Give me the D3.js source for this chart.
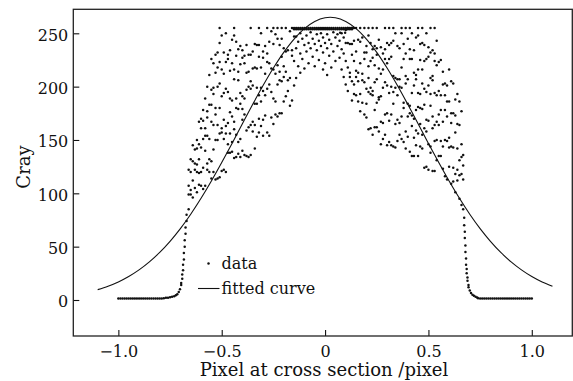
<!DOCTYPE html>
<html>
<head>
<meta charset="utf-8">
<script src="https://cdn.jsdelivr.net/npm/d3@7"></script>
<style>
  body { margin: 0; background: #fff; }
  svg { display: block; font-family: "DejaVu Serif", serif; }
</style>
</head>
<body>
<div id="CHART"></div>
<script>
var WIDTH = 573, HEIGHT = 381;
var MARGIN = {LEFT: 73.3, RIGHT: 0.7, TOP: 9.3, BOTTOM: 45};

var xTicks = [-1.0, -0.5, 0, 0.5, 1.0];
var yTicks = [0, 50, 100, 150, 200, 250];
var legendLabels = ["data", "fitted curve"];
var xTitle = "Pixel at cross section /pixel";
var yTitle = "Cray";

// fitted curve, every 0.05
var fitX = [-1.1, -1.05, -1.0, -0.95, -0.9, -0.85, -0.8, -0.75, -0.7, -0.65, -0.6, -0.55, -0.5, -0.45, -0.4, -0.35, -0.3, -0.25, -0.2, -0.15, -0.1, -0.05, 0,
            0.05, 0.1, 0.15, 0.2, 0.25, 0.3, 0.35, 0.4, 0.45, 0.5, 0.55, 0.6, 0.65, 0.7, 0.75, 0.8, 0.85, 0.9, 0.95, 1.0, 1.05, 1.1];
var fitY = [9.7, 12.9, 16.9, 22.0, 28.2, 35.7, 44.6, 55.0, 66.9, 80.4, 95.3, 111.5, 128.8, 146.8, 165.2, 183.4, 201.0, 217.4, 232.1, 244.6, 254.4, 261.1, 264.6,
            264.6, 261.1, 254.4, 244.6, 232.1, 217.4, 201.0, 183.4, 165.2, 146.8, 128.8, 111.5, 95.3, 80.4, 66.9, 55.0, 44.6, 35.7, 28.2, 22.0, 16.9, 12.9];

// measured points, each entry is [x, gray, gray, ...]
var tailLeft = [
  [-1.00, 1.5], [-0.99, 1.5], [-0.98, 1.5], [-0.97, 1.5], [-0.96, 1.5], [-0.95, 1.5], [-0.94, 1.5], [-0.93, 1.5], [-0.92, 1.5], [-0.91, 1.5], [-0.90, 1.5],
  [-0.89, 1.5], [-0.88, 1.5], [-0.87, 1.5], [-0.86, 1.5], [-0.85, 1.5], [-0.84, 1.5], [-0.83, 1.5], [-0.82, 1.5], [-0.81, 1.5], [-0.80, 1.5], [-0.79, 1.5], [-0.78, 1.6],
  [-0.770, 2], [-0.760, 2.2], [-0.750, 2.5], [-0.740, 3], [-0.730, 3.5], [-0.722, 4.5], [-0.715, 5.5], [-0.708, 7.5], [-0.702, 10], [-0.696, 14, 16],
  [-0.691, 20, 24], [-0.687, 28, 33], [-0.683, 38, 44], [-0.679, 50, 56], [-0.675, 62, 68], [-0.670, 74, 80]
];

var clusterLeft = [
  [-0.660, 85, 99, 107, 122], [-0.650, 99, 103, 120, 132], [-0.640, 96, 112, 130, 145], [-0.630, 105, 122, 128, 141],
  [-0.620, 101, 120, 127, 142, 150], [-0.610, 108, 119, 132, 146, 167], [-0.600, 107, 120, 143, 161, 170], [-0.590, 104, 124, 151, 168, 178],
  [-0.580, 107, 140, 154, 161, 189], [-0.570, 122, 128, 154, 171, 177, 200], [-0.560, 120, 132, 151, 183, 211], [-0.550, 114, 130, 167, 183, 197, 226],
  [-0.540, 120, 141, 164, 193, 199, 222], [-0.530, 113, 150, 174, 180, 213, 230], [-0.520, 114, 150, 164, 200, 218, 232], [-0.510, 115, 156, 180, 203, 223, 241, 255],
  [-0.500, 121, 157, 161, 191, 216, 248], [-0.490, 122, 151, 169, 194, 212, 232], [-0.480, 120, 156, 163, 198, 223, 250], [-0.470, 138, 146, 166, 195, 226, 230],
  [-0.460, 138, 156, 176, 189, 215, 234], [-0.450, 139, 148, 172, 187, 222, 244], [-0.440, 133, 160, 167, 207, 216, 248, 255], [-0.430, 134, 155, 180, 189, 229, 242],
  [-0.420, 137, 148, 179, 206, 214, 235], [-0.410, 134, 151, 184, 194, 221, 238], [-0.400, 140, 169, 179, 191, 227, 234], [-0.390, 136, 174, 189, 222, 229],
  [-0.380, 135, 159, 197, 213, 239], [-0.370, 134, 162, 200, 214, 230], [-0.360, 136, 164, 198, 205, 230, 255], [-0.350, 158, 167, 201, 217, 233],
  [-0.340, 142, 164, 184, 218, 240], [-0.330, 153, 184, 199, 217, 239], [-0.320, 157, 170, 192, 228, 239, 255], [-0.310, 163, 186, 199, 218, 250],
  [-0.300, 154, 169, 196, 227, 233], [-0.290, 173, 192, 212, 238], [-0.280, 157, 198, 223, 231, 255], [-0.270, 154, 202, 222, 242],
  [-0.260, 171, 195, 217, 252], [-0.250, 165, 189, 216, 240, 255], [-0.240, 174, 186, 212, 249], [-0.230, 172, 202, 220, 245, 255],
  [-0.220, 175, 206, 214, 239], [-0.210, 175, 205, 228, 245, 255], [-0.200, 186, 209, 219, 236], [-0.190, 191, 214, 233, 255],
  [-0.180, 196, 206, 234], [-0.170, 182, 208, 252], [-0.160, 187, 229, 234, 255], [-0.150, 201, 224, 247]
];

var clusterMiddle = [
  [-0.140, 208, 236, 247], [-0.130, 219, 242], [-0.120, 213, 231, 250], [-0.110, 226, 245], [-0.100, 217, 239], [-0.090, 233, 248],
  [-0.080, 222, 241], [-0.070, 236, 251], [-0.060, 228, 245], [-0.050, 219, 240], [-0.040, 234, 249], [-0.030, 225, 243],
  [-0.020, 238, 250], [-0.010, 216, 232, 246], [0.000, 222, 241], [0.010, 211, 236, 249], [0.020, 229, 244], [0.030, 218, 240],
  [0.040, 233, 251], [0.050, 224, 246], [0.060, 238, 249], [0.070, 227, 243], [0.080, 216, 235, 250], [0.090, 209, 231, 246],
  [0.100, 202, 224, 241, 253], [0.073, 250.5], [0.097, 250.5]
];

// saturated plateau at the top
var plateau = [
  [-0.15, 255, 253.8], [-0.14, 255, 253.8], [-0.13, 255, 253.8], [-0.12, 255, 253.8], [-0.11, 255, 253.8], [-0.10, 255, 253.8],
  [-0.09, 255, 253.8], [-0.08, 255, 253.8], [-0.07, 255, 253.8], [-0.06, 255, 253.8], [-0.05, 255, 253.8], [-0.04, 255, 253.8],
  [-0.03, 255, 253.8], [-0.02, 255, 253.8], [-0.01, 255, 253.8], [0.00, 255, 253.8], [0.01, 255, 253.8], [0.02, 255, 253.8],
  [0.03, 255, 253.8], [0.04, 255, 253.8], [0.05, 255, 253.8], [0.06, 255, 253.8], [0.07, 255, 253.8], [0.08, 255, 253.8],
  [0.09, 255, 253.8], [0.10, 255, 253.8], [0.11, 255, 253.8], [0.12, 255, 253.8], [0.13, 255, 253.8], [0.14, 255]
];

var clusterRight = [
  [0.110, 196, 218, 241, 255], [0.120, 209, 213, 240], [0.130, 187, 205, 230, 240, 255], [0.140, 193, 202, 224, 243], [0.150, 192, 209, 215, 233, 255],
  [0.160, 186, 205, 213, 244], [0.170, 177, 193, 222, 242, 255], [0.180, 185, 206, 212, 246], [0.190, 174, 204, 226, 232, 255], [0.200, 171, 184, 198, 232, 238],
  [0.210, 160, 195, 208, 219, 248, 255], [0.220, 161, 193, 199, 224, 241], [0.230, 155, 192, 196, 227, 235, 255], [0.240, 162, 178, 204, 220, 238], [0.250, 162, 185, 207, 230, 236, 255],
  [0.260, 158, 188, 190, 217, 244], [0.270, 146, 167, 191, 212, 237], [0.280, 151, 166, 199, 216, 231], [0.290, 155, 174, 204, 226, 235, 255], [0.300, 145, 175, 201, 222, 241],
  [0.310, 148, 168, 194, 226, 239, 255], [0.320, 145, 174, 200, 228, 241], [0.330, 144, 184, 195, 210, 243, 255], [0.340, 143, 165, 199, 208, 250], [0.350, 149, 169, 192, 207, 238],
  [0.360, 155, 166, 200, 207, 236], [0.370, 151, 172, 199, 218, 250, 255], [0.380, 148, 180, 185, 226, 240], [0.390, 142, 158, 203, 210, 231, 255], [0.400, 153, 172, 184, 207, 245],
  [0.410, 139, 175, 182, 226, 235, 255], [0.420, 135, 163, 173, 194, 226, 250], [0.430, 135, 152, 170, 201, 213, 234], [0.440, 145, 159, 178, 207, 211, 246], [0.450, 135, 156, 181, 194, 216, 248, 255],
  [0.460, 144, 165, 180, 193, 225, 240], [0.470, 142, 155, 179, 203, 216, 241, 255], [0.480, 124, 161, 183, 198, 224, 239], [0.490, 125, 158, 169, 195, 226, 250], [0.500, 122, 146, 168, 201, 228, 237],
  [0.510, 138, 144, 182, 193, 208, 232, 255], [0.520, 121, 161, 172, 206, 210, 234], [0.530, 121, 149, 164, 194, 224, 231, 255], [0.540, 131, 150, 167, 192, 220, 243], [0.550, 135, 164, 174, 196, 223],
  [0.560, 135, 149, 178, 192, 225], [0.570, 123, 144, 167, 202, 214], [0.580, 116, 150, 178, 192, 203], [0.590, 113, 149, 172, 186, 201], [0.600, 125, 143, 152, 186, 216],
  [0.610, 109, 144, 166, 175, 205], [0.620, 111, 124, 143, 175, 203], [0.630, 101, 118, 157, 173, 188], [0.640, 112, 122, 142, 165, 193], [0.650, 95, 117, 131, 164, 186],
  [0.660, 89, 118, 134, 146, 177], [0.668, 85, 113, 126, 136]
];

var tailRight = [
  [0.673, 70, 77], [0.676, 58, 64], [0.679, 45, 51], [0.682, 33, 39], [0.685, 25, 29], [0.689, 18, 21], [0.694, 12, 14], [0.700, 9],
  [0.706, 6.5], [0.713, 5], [0.720, 4], [0.728, 3], [0.736, 2.3],
  [0.74, 1.6], [0.75, 1.5], [0.76, 1.5], [0.77, 1.5], [0.78, 1.5], [0.79, 1.5], [0.80, 1.5], [0.81, 1.5], [0.82, 1.5], [0.83, 1.5], [0.84, 1.5],
  [0.85, 1.5], [0.86, 1.5], [0.87, 1.5], [0.88, 1.5], [0.89, 1.5], [0.90, 1.5], [0.91, 1.5], [0.92, 1.5], [0.93, 1.5], [0.94, 1.5], [0.95, 1.5],
  [0.96, 1.5], [0.97, 1.5], [0.98, 1.5], [0.99, 1.5], [1.00, 1.5]
];

function createChart() {

    var svg = d3.select("#CHART")
        .append("svg")
        .attr("width", WIDTH)
        .attr("height", HEIGHT);

    var x = d3.scaleLinear()
        .domain([-1.218, 1.196])
        .range([MARGIN.LEFT, WIDTH - MARGIN.RIGHT]);

    var y = d3.scaleLinear()
        .domain([-33.75, 272.5])
        .range([HEIGHT - MARGIN.BOTTOM, MARGIN.TOP]);

    // flatten the columns into points
    var points = [];
    [tailLeft, clusterLeft, clusterMiddle, plateau, clusterRight, tailRight].forEach(function(cols) {
        cols.forEach(function(c) {
            for (var i = 1; i < c.length; i++) points.push([c[0], c[i]]);
        });
    });

    svg.append("g")
        .selectAll("circle")
        .data(points)
        .enter()
        .append("circle")
        .attr("cx", function(d) { return x(d[0]); })
        .attr("cy", function(d) { return y(d[1]); })
        .attr("r", 1.25)
        .attr("fill", "#111");

    // fitted curve
    var line = d3.line()
        .x(function(d, i) { return x(fitX[i]); })
        .y(function(d) { return y(d); })
        .curve(d3.curveCatmullRom);

    svg.append("path")
        .datum(fitY)
        .attr("fill", "none")
        .attr("stroke", "#111")
        .attr("stroke-width", 1.1)
        .attr("d", line);

    // axes, ticks pointing inwards
    var fmt = function(d) { return d === 0 ? "0" : d3.format(".1f")(d); };

    var gx = svg.append("g")
        .attr("transform", "translate(0," + (HEIGHT - MARGIN.BOTTOM) + ")")
        .call(d3.axisBottom(x).tickValues(xTicks).tickFormat(fmt).tickSizeInner(-6).tickSizeOuter(0).tickPadding(9.5));

    var gy = svg.append("g")
        .attr("transform", "translate(" + MARGIN.LEFT + ",0)")
        .call(d3.axisLeft(y).tickValues(yTicks).tickSizeInner(-6).tickSizeOuter(0).tickPadding(5));

    [gx, gy].forEach(function(g) {
        g.select(".domain").remove();
        g.selectAll("line").attr("stroke", "#111").attr("stroke-width", 1.1);
        g.selectAll("text").attr("fill", "#111").style("font-family", "DejaVu Serif").style("font-size", "16px");
    });
    gy.selectAll("text").attr("dy", "0.42em");

    // frame
    svg.append("rect")
        .attr("x", x.range()[0])
        .attr("y", MARGIN.TOP)
        .attr("width", x.range()[1] - x.range()[0])
        .attr("height", HEIGHT - MARGIN.BOTTOM - MARGIN.TOP)
        .attr("fill", "none")
        .attr("stroke", "#222")
        .attr("stroke-width", 1.3);

    // axis titles
    svg.append("text")
        .attr("x", 324)
        .attr("y", 376)
        .attr("text-anchor", "middle")
        .style("font-size", "18px")
        .attr("fill", "#111")
        .text(xTitle);

    svg.append("text")
        .attr("transform", "translate(30,167) rotate(-90)")
        .attr("text-anchor", "middle")
        .style("font-size", "18px")
        .attr("fill", "#111")
        .text(yTitle);

    // legend
    var lg = svg.append("g").style("font-size", "16px").attr("fill", "#111");
    lg.append("circle").attr("cx", 208.5).attr("cy", 263.5).attr("r", 1.25).attr("fill", "#111");
    lg.append("text").attr("x", 221.5).attr("y", 269).text(legendLabels[0]);
    lg.append("line").attr("x1", 198).attr("x2", 219.5).attr("y1", 288.5).attr("y2", 288.5)
        .attr("stroke", "#111").attr("stroke-width", 1.1);
    lg.append("text").attr("x", 221.5).attr("y", 293.5).text(legendLabels[1]);
}

createChart();
</script>
</body>
</html>
